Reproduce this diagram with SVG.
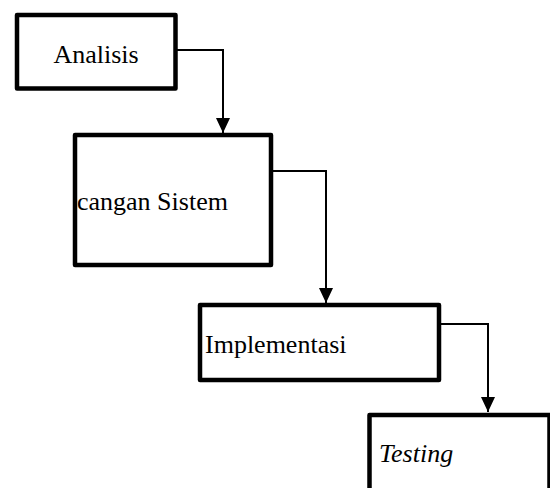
<svg xmlns="http://www.w3.org/2000/svg" width="550" height="488" viewBox="0 0 550 488">
<style>
.box{fill:#fff;stroke:#000;stroke-width:4.5;stroke-linejoin:round}
.lbl{font-family:"Liberation Serif","Times New Roman",serif;font-size:26px;fill:#000}
.conn{fill:none;stroke:#000;stroke-width:2}
</style>
<defs>
<marker id="arr" viewBox="0 0 15 14" refX="15" refY="7" markerWidth="15" markerHeight="14" markerUnits="userSpaceOnUse" orient="auto">
<path d="M0,0 L15,7 L0,14 Z" fill="#000"/>
</marker>
</defs>
<rect width="550" height="488" fill="#fff"/>
<g id="connectors">
<path class="conn" d="M171,50 H223 V133" marker-end="url(#arr)"/>
<path class="conn" d="M273,171 H326 V303" marker-end="url(#arr)"/>
<path class="conn" d="M435,324 H488 V412" marker-end="url(#arr)"/>
</g>
<g id="analisis">
<rect class="box" x="17" y="15" width="158.5" height="73.5"/>
<text class="lbl" x="96" y="63" text-anchor="middle">Analisis</text>
</g>
<g id="perancangan">
<rect class="box" x="75" y="135" width="196" height="130"/>
<text class="lbl" x="77" y="210">cangan Sistem</text>
</g>
<g id="implementasi">
<rect class="box" x="200" y="305" width="239" height="75"/>
<text class="lbl" x="205" y="353">Implementasi</text>
</g>
<g id="testing">
<rect class="box" x="369.5" y="415" width="180" height="120"/>
<text class="lbl" x="379" y="462" font-style="italic">Testing</text>
</g>
</svg>
